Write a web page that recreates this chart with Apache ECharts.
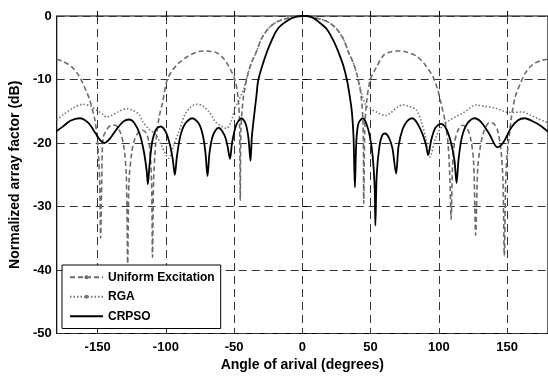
<!DOCTYPE html>
<html>
<head>
<meta charset="utf-8">
<script src="https://cdn.jsdelivr.net/npm/echarts@6/dist/echarts.min.js"></script>
<style>
  html, body { margin: 0; padding: 0; background: #fff; }
  #chart { width: 548px; height: 378px; }
</style>
</head>
<body>
<div id="chart"></div>
<script>
  // angle (deg) / level (dB)
  var uniformAngles = [-180, -175, -169, -165, -162, -158, -155.8, -152, -150, -148.5, -147.8, -147, -146, -143, -140, -137, -134, -131, -129, -128, -127, -125, -123, -120, -117, -114, -112, -110.5, -109.8, -109, -107.4, -105, -102.5, -99, -95, -90.5, -85, -80.8, -76, -71, -66, -62.6, -58, -54, -49.3, -47, -46, -45.5, -45, -44, -43, -40, -37, -34, -30, -25, -20, -15, -10, -5, 0,
    5, 10, 15, 20, 25, 30, 34, 37, 40, 43, 44.5, 45, 45.7, 47, 49.8, 53.7, 59.5, 64, 70, 75, 83.5, 90, 95.8, 99, 101.6, 104.5, 106.7, 108, 109, 110, 111.5, 114, 117.5, 121, 123.5, 125.5, 127, 128.5, 130.5, 133, 137, 140, 143, 145.5, 147, 148, 149, 150, 151.5, 153.5, 156, 160, 163.3, 167, 170.5, 175, 180];
  var uniformDb = [-6.8, -7.2, -8.0, -9.0, -10.1, -12.0, -13.2, -16.4, -20, -26, -35, -26, -19.2, -17.8, -17.2, -17.2, -18, -20.3, -25, -39, -26, -21.5, -19.5, -18.3, -18, -18.6, -20.5, -26, -38, -26, -20, -16, -13.7, -10, -8.5, -7.4, -6.5, -6.0, -5.6, -5.5, -5.6, -5.8, -6.6, -7.9, -10.1, -13, -17, -29, -18, -14.5, -12.5, -9.2, -7.2, -5.8, -3.6, -2.0, -1.1, -0.6, -0.3, -0.05, 0,
    -0.05, -0.3, -0.6, -1.1, -2.0, -3.6, -5.8, -7.2, -9.2, -12.5, -17, -29.5, -18, -13.7, -10, -8.3, -6.2, -5.7, -5.5, -5.6, -6.3, -7.7, -9.6, -11.5, -13.7, -16.5, -20, -25, -32, -24, -20, -18, -17.2, -17.8, -19.5, -23, -34.5, -24, -20.5, -18.2, -16.8, -16.9, -18, -21, -26, -37.8, -26, -22, -19, -15.5, -12.7, -10.5, -9, -8, -7.4, -7.0, -6.8];

  var rgaAngles = [-180, -175, -168, -161, -155, -150.9, -146, -143.7, -140, -135, -129, -124, -119.6, -117, -112.5, -107.4, -103, -98, -94.5, -90.5, -86, -82, -78, -73.5, -68, -63.9, -59, -55.5, -52, -49.3, -47, -45, -43, -40, -37, -34, -30, -25, -20, -15, -10, -5, 0,
    5, 10, 15, 20, 25, 30, 34, 37, 40, 43, 46.4, 50, 55, 60.7, 65, 70, 74, 78, 83.5, 87, 90.7, 93.4, 98, 103, 108, 113, 117.6, 122, 127, 133, 141.5, 148.8, 155, 161, 167, 172, 177.6, 180];
  var rgaDb = [-16.4, -15.5, -14.5, -13.9, -14.2, -14.8, -15.5, -15.9, -15.7, -15.1, -14.6, -14.9, -15.5, -16.6, -17.8, -18.7, -20.5, -22.4, -20.5, -18.2, -15.5, -14.4, -13.9, -14.1, -15.2, -16.6, -17.4, -17.7, -16.5, -14.5, -13.5, -12.5, -11.5, -9.2, -7.2, -5.8, -3.6, -2.0, -1.1, -0.6, -0.3, -0.05, 0,
    -0.05, -0.3, -0.6, -1.1, -2.0, -3.6, -5.8, -7.2, -9.2, -11.8, -14, -14.6, -15.2, -15.7, -15.2, -14.3, -14, -14.2, -14.8, -16.5, -19.5, -22.2, -19, -17.2, -16.4, -15.8, -15.3, -14.6, -14, -14.2, -14.5, -15.1, -15.2, -15.1, -15.6, -16.1, -16.6, -16.8];

  var crpsoAngles = [-180, -176, -170, -163, -157, -152, -148, -145, -141, -136, -131, -127, -123, -119, -116, -114, -113.2, -112, -110, -107, -103.8, -100, -97, -95, -93.4, -92, -89.5, -86, -80.7, -76, -73, -71, -69.5, -68, -65.5, -61.4, -57, -55, -53, -51.5, -48.5, -44.5, -41.5, -39.5, -38, -37, -35.5, -33.6, -32.4, -29, -24, -18, -10.8, -5, 0,
    3, 8, 13.5, 18, 23.5, 27, 30, 32.8, 35, 36.3, 37.5, 38.5, 39.5, 41, 44.3, 47, 49.5, 51.5, 53, 53.5, 54.5, 56.5, 58.5, 60.7, 63.5, 66, 68.7, 70.5, 73.5, 77, 80.6, 84, 87.5, 90.5, 92.2, 94.5, 97.5, 101.6, 105.5, 109, 111.5, 113, 114.5, 117, 121, 126, 131, 137, 143, 147, 153, 158, 163, 168, 174, 180];
  var crpsoDb = [-18.1, -17.5, -16.5, -16.1, -16.8, -18.3, -19.6, -20, -19.3, -17.8, -16.6, -16.3, -16.9, -18.7, -21.5, -24.5, -26.5, -23.5, -19.8, -17.8, -17.4, -18.3, -20.3, -22.5, -25, -22.3, -19, -17, -16.1, -16.9, -18.7, -21.5, -25.2, -21.5, -18.8, -17.6, -18.8, -20.3, -22.5, -20, -17.2, -16.1, -17, -19.2, -22.8, -19, -16, -12.5, -10.2, -7.6, -4.6, -2.0, -0.7, -0.15, 0,
    0, -0.3, -1.2, -2.1, -4.2, -6, -7.8, -10.2, -13, -15.1, -19, -27, -20, -17, -16.1, -17, -19, -22, -27, -33, -25, -20.5, -18.8, -18.5, -19.2, -20.8, -24.8, -20.5, -17.8, -16.5, -16.1, -16.8, -18.3, -20.2, -21.9, -19.5, -17.6, -17, -17.8, -20, -22.8, -26.3, -22.5, -19, -16.9, -16.1, -16.7, -18.6, -20.7, -20, -17.6, -16.4, -16.1, -16.5, -17.2, -18.2];

  var xTicks = [-150, -100, -50, 0, 50, 100, 150];

  function pairs(xs, ys) {
    return xs.map(function (x, i) { return [x, ys[i]]; });
  }

  var font = 'Liberation Sans, Arial, sans-serif';
  var gridDash = { color: '#333', width: 1, type: [8, 5] };

  var myChart = echarts.init(document.getElementById('chart'));
  var option = {
    animation: false,
    grid: {
      left: 56,
      top: 16,
      width: 495,
      height: 317.5,
      show: true,
      borderColor: '#000',
      borderWidth: 1.2
    },
    xAxis: {
      type: 'value',
      min: -180,
      max: 180,
      name: 'Angle of arival (degrees)',
      nameLocation: 'middle',
      nameGap: 25,
      nameTextStyle: { fontFamily: font, fontWeight: 'bold', fontSize: 14, color: '#000' },
      axisLine: { show: false },
      axisTick: { show: true, inside: true, length: 5, lineStyle: { color: '#000' }, customValues: xTicks },
      axisLabel: { fontFamily: font, fontWeight: 'bold', fontSize: 13, color: '#000', margin: 7, customValues: xTicks },
      splitLine: { show: true, lineStyle: gridDash }
    },
    yAxis: {
      type: 'value',
      min: -50,
      max: 0,
      interval: 10,
      name: 'Normalized array factor (dB)',
      nameLocation: 'middle',
      nameGap: 30,
      nameTextStyle: { fontFamily: font, fontWeight: 'bold', fontSize: 14, color: '#000' },
      axisLine: { show: false },
      axisTick: { show: true, inside: true, length: 5, lineStyle: { color: '#000' } },
      axisLabel: { fontFamily: font, fontWeight: 'bold', fontSize: 13, color: '#000', margin: 5 },
      splitLine: { show: true, lineStyle: gridDash }
    },
    legend: {
      orient: 'vertical',
      left: 62,
      top: 265,
      itemWidth: 33,
      itemHeight: 5,
      itemGap: 5,
      padding: [5, 6, 5, 7],
      backgroundColor: '#fff',
      borderColor: '#000',
      borderWidth: 1,
      borderRadius: 0,
      textStyle: { fontFamily: font, fontWeight: 'bold', fontSize: 12, color: '#000', lineHeight: 14.5 },
      data: ['Uniform Excitation', 'RGA', { name: 'CRPSO', itemStyle: { opacity: 0 } }]
    },
    series: [
      {
        name: 'Uniform Excitation',
        type: 'line',
        symbol: 'circle',
        symbolSize: 4,
        showSymbol: false,
        smooth: 0.3,
        color: '#6b6b6b',
        lineStyle: { color: '#6b6b6b', width: 1.6, type: [5, 3] },
        data: pairs(uniformAngles, uniformDb),
        z: 3
      },
      {
        name: 'RGA',
        type: 'line',
        symbol: 'circle',
        symbolSize: 4,
        showSymbol: false,
        smooth: 0.3,
        color: '#777',
        lineStyle: { color: '#777', width: 1.6, type: [1.5, 2] },
        data: pairs(rgaAngles, rgaDb),
        z: 3
      },
      {
        name: 'CRPSO',
        type: 'line',
        symbol: 'none',
        smooth: 0.3,
        color: '#000',
        lineStyle: { color: '#000', width: 1.8 },
        data: pairs(crpsoAngles, crpsoDb),
        z: 4
      }
    ]
  };
  myChart.setOption(option);
</script>
</body>
</html>
